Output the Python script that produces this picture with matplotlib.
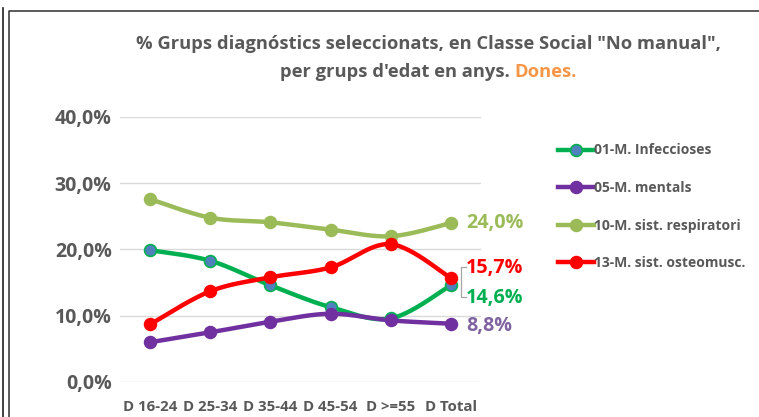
import numpy as np
import matplotlib
matplotlib.use("Agg")
import matplotlib.pyplot as plt
from matplotlib.lines import Line2D
from matplotlib.offsetbox import TextArea, HPacker, AnchoredOffsetbox

categories = ["D 16-24", "D 25-34", "D 35-44", "D 45-54", "D >=55", "D Total"]
infeccioses = [19.9, 18.3, 14.6, 11.3, 9.6, 14.6]
mentals = [6.0, 7.5, 9.1, 10.3, 9.3, 8.8]
respiratori = [27.6, 24.8, 24.1, 23.0, 22.0, 24.0]
osteomusc = [8.7, 13.7, 15.8, 17.3, 20.8, 15.7]
series_names = ["01-M. Infeccioses", "05-M. mentals", "10-M. sist. respiratori", "13-M. sist. osteomusc."]
yticks = [0, 10, 20, 30, 40]
ytick_labels = ["0,0%", "10,0%", "20,0%", "30,0%", "40,0%"]

FONT = ["Open Sans", "DejaVu Sans"]
plt.rcParams['font.family'] = FONT
GRAY = "#595959"

def smooth(xs, ys, n=30):
    xs = np.asarray(xs, float); ys = np.asarray(ys, float)
    P = np.column_stack([xs, ys])
    out = []
    for i in range(len(P) - 1):
        p0 = P[i - 1] if i > 0 else P[i]
        p1 = P[i]; p2 = P[i + 1]
        p3 = P[i + 2] if i + 2 < len(P) else P[i + 1]
        c1 = p1 + (p2 - p0) / 6.0
        c2 = p2 - (p3 - p1) / 6.0
        t = np.linspace(0, 1, n)[:, None]
        seg = (1 - t) ** 3 * p1 + 3 * (1 - t) ** 2 * t * c1 + 3 * (1 - t) * t ** 2 * c2 + t ** 3 * p2
        out.append(seg if i == 0 else seg[1:])
    s = np.vstack(out)
    return s[:, 0], s[:, 1]

fig = plt.figure(figsize=(7.59, 4.17), dpi=100)
ax = fig.add_axes([120 / 759, 1 - 382 / 417, 361 / 759, 265 / 417])

x = np.arange(len(categories))
specs = [
    (infeccioses, "#00B050", "#4F81BD"),
    (mentals, "#7030A0", "#7030A0"),
    (respiratori, "#9BBB59", "#9BBB59"),
    (osteomusc, "#FF0000", "#FF0000"),
]
handles = []
for (vals, col, mfc), name in zip(specs, series_names):
    sx, sy = smooth(x, vals)
    ax.plot(sx, sy, color=col, lw=3.2, solid_capstyle="round", zorder=3)
    ax.plot(x, vals, ls="none", marker="o", ms=8.5, mfc=mfc, mec=col, mew=1.2, zorder=4)
    handles.append(Line2D([0], [0], color=col, lw=3.2, marker="o", ms=8.5, mfc=mfc, mec=col, mew=1.2))

ax.set_xlim(-0.5, 5.5)
ax.set_ylim(0, 40)
ax.set_yticks(yticks)
ax.set_yticklabels(ytick_labels)
ax.set_xticks(x)
ax.set_xticklabels(categories)
ax.tick_params(axis="y", length=0, pad=6, labelsize=14, labelcolor=GRAY)
ax.tick_params(axis="x", length=0, pad=13, labelsize=10.8, labelcolor=GRAY)
for lab in ax.get_xticklabels() + ax.get_yticklabels():
    lab.set_fontweight("bold")
ax.grid(axis="y", color="#d9d9d9", lw=1.0)
ax.set_axisbelow(True)
for s in ax.spines.values():
    s.set_visible(False)
ax.set_facecolor("none")

# end labels
endx = x[-1]
lab_fs = 14.2
ax.annotate("24,0%", (endx, respiratori[-1]), xytext=(11, 0), textcoords="offset points",
            va="center", ha="left", color="#9BBB59", fontsize=lab_fs, fontweight="bold")
ax.annotate("15,7%", (endx, osteomusc[-1]), xytext=(11, 7.5), textcoords="offset points",
            va="center", ha="left", color="#FF0000", fontsize=lab_fs, fontweight="bold")
ax.annotate("14,6%", (endx, infeccioses[-1]), xytext=(11, -9.5), textcoords="offset points",
            va="center", ha="left", color="#00B050", fontsize=lab_fs, fontweight="bold")
ax.annotate("8,8%", (endx, mentals[-1]), xytext=(11, -1.5), textcoords="offset points",
            va="center", ha="left", color="#8064A2", fontsize=lab_fs, fontweight="bold")
# bracket leader
bx0 = 461 / 759; bx1 = 466 / 759
fig.add_artist(Line2D([bx1, bx0, bx0, bx1], [1 - 267 / 417, 1 - 267 / 417, 1 - 297 / 417, 1 - 297 / 417],
                      color="#a6a6a6", lw=0.9))

fig.legend(handles, series_names, loc="upper left", bbox_to_anchor=(545 / 759, 1 - 131 / 417),
           frameon=False, handlelength=2.6, handletextpad=0.0,
           labelspacing=1.7, labelcolor=GRAY, prop={"weight": "bold", "family": FONT, "size": 10})

fig.text(428 / 759, 1 - 44 / 417, "% Grups diagnóstics seleccionats, en Classe Social \"No manual\",",
         ha="center", va="center", fontsize=13.2, fontweight="bold", color=GRAY)
ta1 = TextArea("per grups d'edat en anys. ", textprops=dict(fontsize=13.2, fontweight="bold", color=GRAY))
ta2 = TextArea("Dones.", textprops=dict(fontsize=13.2, fontweight="bold", color="#F79646"))
hp = HPacker(children=[ta1, ta2], pad=0, sep=0)
ab = AnchoredOffsetbox(loc="center", child=hp, frameon=False, bbox_to_anchor=(428 / 759, 1 - 72 / 417),
                       bbox_transform=fig.transFigure, pad=0, borderpad=0)
fig.add_artist(ab)

# frame lines
fig.add_artist(Line2D([8.5 / 759, 8.5 / 759, 1.0], [0, 1 - 10.5 / 417, 1 - 10.5 / 417], color="#404040", lw=1.2))
fig.add_artist(Line2D([2.5 / 759, 2.5 / 759], [0, 1 - 8 / 417], color="#202020", lw=1.2))

fig.savefig("out.png", dpi=100, facecolor="white")
